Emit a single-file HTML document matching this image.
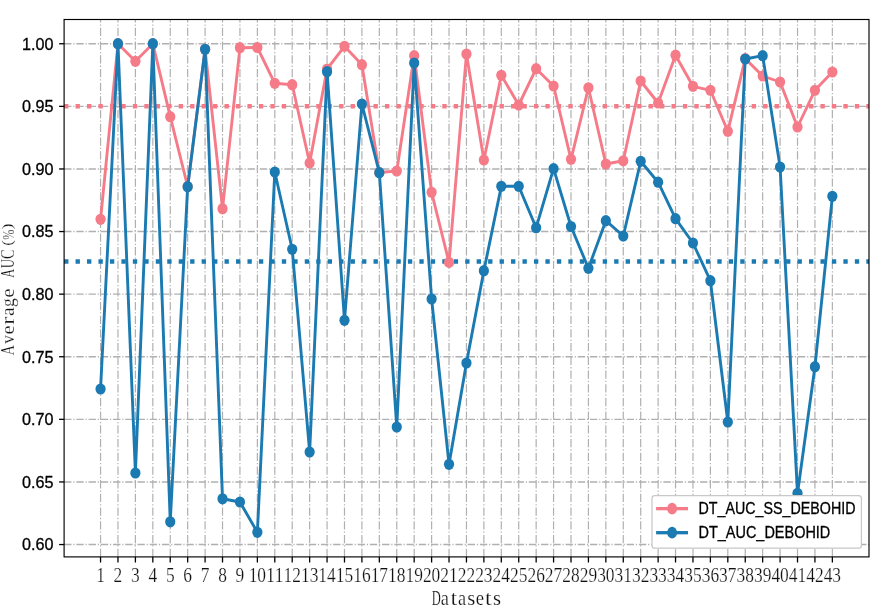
<!DOCTYPE html>
<html><head><meta charset="utf-8"><title>Average AUC chart</title>
<style>html,body{margin:0;padding:0;background:#fff;}body{width:882px;height:610px;overflow:hidden;font-family:"Liberation Sans",sans-serif;}svg{display:block;}</style>
</head><body>
<svg width="882" height="610" viewBox="0 0 882 610" style="will-change:transform">
<rect width="882" height="610" fill="#fff"/>
<g stroke="#b0b0b0" fill="none">
<path d="M100.55 556.9 V19.5" stroke-width="1.2" stroke-dasharray="8.27 2.07 1.29 2.075"/>
<path d="M117.97 556.9 V19.5" stroke-width="1.2" stroke-dasharray="8.27 2.07 1.29 2.075"/>
<path d="M135.40 556.9 V19.5" stroke-width="1.2" stroke-dasharray="8.27 2.07 1.29 2.075"/>
<path d="M152.82 556.9 V19.5" stroke-width="1.2" stroke-dasharray="8.27 2.07 1.29 2.075"/>
<path d="M170.25 556.9 V19.5" stroke-width="1.2" stroke-dasharray="8.27 2.07 1.29 2.075"/>
<path d="M187.67 556.9 V19.5" stroke-width="1.2" stroke-dasharray="8.27 2.07 1.29 2.075"/>
<path d="M205.09 556.9 V19.5" stroke-width="1.2" stroke-dasharray="8.27 2.07 1.29 2.075"/>
<path d="M222.52 556.9 V19.5" stroke-width="1.2" stroke-dasharray="8.27 2.07 1.29 2.075"/>
<path d="M239.94 556.9 V19.5" stroke-width="1.2" stroke-dasharray="8.27 2.07 1.29 2.075"/>
<path d="M257.37 556.9 V19.5" stroke-width="1.2" stroke-dasharray="8.27 2.07 1.29 2.075"/>
<path d="M274.79 556.9 V19.5" stroke-width="1.2" stroke-dasharray="8.27 2.07 1.29 2.075"/>
<path d="M292.21 556.9 V19.5" stroke-width="1.2" stroke-dasharray="8.27 2.07 1.29 2.075"/>
<path d="M309.64 556.9 V19.5" stroke-width="1.2" stroke-dasharray="8.27 2.07 1.29 2.075"/>
<path d="M327.06 556.9 V19.5" stroke-width="1.2" stroke-dasharray="8.27 2.07 1.29 2.075"/>
<path d="M344.49 556.9 V19.5" stroke-width="1.2" stroke-dasharray="8.27 2.07 1.29 2.075"/>
<path d="M361.91 556.9 V19.5" stroke-width="1.2" stroke-dasharray="8.27 2.07 1.29 2.075"/>
<path d="M379.33 556.9 V19.5" stroke-width="1.2" stroke-dasharray="8.27 2.07 1.29 2.075"/>
<path d="M396.76 556.9 V19.5" stroke-width="1.2" stroke-dasharray="8.27 2.07 1.29 2.075"/>
<path d="M414.18 556.9 V19.5" stroke-width="1.2" stroke-dasharray="8.27 2.07 1.29 2.075"/>
<path d="M431.61 556.9 V19.5" stroke-width="1.2" stroke-dasharray="8.27 2.07 1.29 2.075"/>
<path d="M449.03 556.9 V19.5" stroke-width="1.2" stroke-dasharray="8.27 2.07 1.29 2.075"/>
<path d="M466.45 556.9 V19.5" stroke-width="1.2" stroke-dasharray="8.27 2.07 1.29 2.075"/>
<path d="M483.88 556.9 V19.5" stroke-width="1.2" stroke-dasharray="8.27 2.07 1.29 2.075"/>
<path d="M501.30 556.9 V19.5" stroke-width="1.2" stroke-dasharray="8.27 2.07 1.29 2.075"/>
<path d="M518.73 556.9 V19.5" stroke-width="1.2" stroke-dasharray="8.27 2.07 1.29 2.075"/>
<path d="M536.15 556.9 V19.5" stroke-width="1.2" stroke-dasharray="8.27 2.07 1.29 2.075"/>
<path d="M553.57 556.9 V19.5" stroke-width="1.2" stroke-dasharray="8.27 2.07 1.29 2.075"/>
<path d="M571.00 556.9 V19.5" stroke-width="1.2" stroke-dasharray="8.27 2.07 1.29 2.075"/>
<path d="M588.42 556.9 V19.5" stroke-width="1.2" stroke-dasharray="8.27 2.07 1.29 2.075"/>
<path d="M605.85 556.9 V19.5" stroke-width="1.2" stroke-dasharray="8.27 2.07 1.29 2.075"/>
<path d="M623.27 556.9 V19.5" stroke-width="1.2" stroke-dasharray="8.27 2.07 1.29 2.075"/>
<path d="M640.69 556.9 V19.5" stroke-width="1.2" stroke-dasharray="8.27 2.07 1.29 2.075"/>
<path d="M658.12 556.9 V19.5" stroke-width="1.2" stroke-dasharray="8.27 2.07 1.29 2.075"/>
<path d="M675.54 556.9 V19.5" stroke-width="1.2" stroke-dasharray="8.27 2.07 1.29 2.075"/>
<path d="M692.97 556.9 V19.5" stroke-width="1.2" stroke-dasharray="8.27 2.07 1.29 2.075"/>
<path d="M710.39 556.9 V19.5" stroke-width="1.2" stroke-dasharray="8.27 2.07 1.29 2.075"/>
<path d="M727.81 556.9 V19.5" stroke-width="1.2" stroke-dasharray="8.27 2.07 1.29 2.075"/>
<path d="M745.24 556.9 V19.5" stroke-width="1.2" stroke-dasharray="8.27 2.07 1.29 2.075"/>
<path d="M762.66 556.9 V19.5" stroke-width="1.2" stroke-dasharray="8.27 2.07 1.29 2.075"/>
<path d="M780.09 556.9 V19.5" stroke-width="1.2" stroke-dasharray="8.27 2.07 1.29 2.075"/>
<path d="M797.51 556.9 V19.5" stroke-width="1.2" stroke-dasharray="8.27 2.07 1.29 2.075"/>
<path d="M814.93 556.9 V19.5" stroke-width="1.2" stroke-dasharray="8.27 2.07 1.29 2.075"/>
<path d="M832.36 556.9 V19.5" stroke-width="1.2" stroke-dasharray="8.27 2.07 1.29 2.075"/>
<path d="M64.1 43.75 H869.0" stroke-width="1.4" stroke-dasharray="7.38 1.85 1.15 1.85"/>
<path d="M64.1 106.35 H869.0" stroke-width="1.4" stroke-dasharray="7.38 1.85 1.15 1.85"/>
<path d="M64.1 168.95 H869.0" stroke-width="1.4" stroke-dasharray="7.38 1.85 1.15 1.85"/>
<path d="M64.1 231.55 H869.0" stroke-width="1.4" stroke-dasharray="7.38 1.85 1.15 1.85"/>
<path d="M64.1 294.15 H869.0" stroke-width="1.4" stroke-dasharray="7.38 1.85 1.15 1.85"/>
<path d="M64.1 356.75 H869.0" stroke-width="1.4" stroke-dasharray="7.38 1.85 1.15 1.85"/>
<path d="M64.1 419.35 H869.0" stroke-width="1.4" stroke-dasharray="7.38 1.85 1.15 1.85"/>
<path d="M64.1 481.95 H869.0" stroke-width="1.4" stroke-dasharray="7.38 1.85 1.15 1.85"/>
<path d="M64.1 544.55 H869.0" stroke-width="1.4" stroke-dasharray="7.38 1.85 1.15 1.85"/>
</g>
<path d="M64.1 106.3 H869.0" stroke="#f57b88" stroke-width="4.4" stroke-dasharray="4.33 7.13" fill="none"/>
<path d="M64.1 261.5 H869.0" stroke="#1b7ab1" stroke-width="4.4" stroke-dasharray="4.33 7.13" fill="none"/>
<clipPath id="ax"><rect x="64.1" y="19.5" width="804.9" height="537.4"/></clipPath>
<g clip-path="url(#ax)">
<polyline points="100.55,219.30 117.97,43.70 135.40,61.30 152.82,43.70 170.25,116.70 187.67,186.50 205.09,49.30 222.52,208.70 239.94,47.70 257.37,47.50 274.79,83.30 292.21,84.70 309.64,163.00 327.06,69.00 344.49,46.30 361.91,64.70 379.33,172.50 396.76,171.00 414.18,55.70 431.61,192.30 449.03,262.40 466.45,54.00 483.88,160.00 501.30,75.30 518.73,105.00 536.15,68.70 553.57,86.00 571.00,159.30 588.42,87.80 605.85,164.00 623.27,160.80 640.69,81.00 658.12,103.00 675.54,55.20 692.97,86.30 710.39,90.30 727.81,131.30 745.24,58.60 762.66,76.00 780.09,82.00 797.51,127.00 814.93,90.30 832.36,72.00" fill="none" stroke="#f57b88" stroke-width="2.9" stroke-linejoin="round" stroke-linecap="butt"/>
<g fill="#f57b88">
<ellipse cx="100.55" cy="219.30" rx="5.1" ry="5.6"/>
<ellipse cx="117.97" cy="43.70" rx="5.1" ry="5.6"/>
<ellipse cx="135.40" cy="61.30" rx="5.1" ry="5.6"/>
<ellipse cx="152.82" cy="43.70" rx="5.1" ry="5.6"/>
<ellipse cx="170.25" cy="116.70" rx="5.1" ry="5.6"/>
<ellipse cx="187.67" cy="186.50" rx="5.1" ry="5.6"/>
<ellipse cx="205.09" cy="49.30" rx="5.1" ry="5.6"/>
<ellipse cx="222.52" cy="208.70" rx="5.1" ry="5.6"/>
<ellipse cx="239.94" cy="47.70" rx="5.1" ry="5.6"/>
<ellipse cx="257.37" cy="47.50" rx="5.1" ry="5.6"/>
<ellipse cx="274.79" cy="83.30" rx="5.1" ry="5.6"/>
<ellipse cx="292.21" cy="84.70" rx="5.1" ry="5.6"/>
<ellipse cx="309.64" cy="163.00" rx="5.1" ry="5.6"/>
<ellipse cx="327.06" cy="69.00" rx="5.1" ry="5.6"/>
<ellipse cx="344.49" cy="46.30" rx="5.1" ry="5.6"/>
<ellipse cx="361.91" cy="64.70" rx="5.1" ry="5.6"/>
<ellipse cx="379.33" cy="172.50" rx="5.1" ry="5.6"/>
<ellipse cx="396.76" cy="171.00" rx="5.1" ry="5.6"/>
<ellipse cx="414.18" cy="55.70" rx="5.1" ry="5.6"/>
<ellipse cx="431.61" cy="192.30" rx="5.1" ry="5.6"/>
<ellipse cx="449.03" cy="262.40" rx="5.1" ry="5.6"/>
<ellipse cx="466.45" cy="54.00" rx="5.1" ry="5.6"/>
<ellipse cx="483.88" cy="160.00" rx="5.1" ry="5.6"/>
<ellipse cx="501.30" cy="75.30" rx="5.1" ry="5.6"/>
<ellipse cx="518.73" cy="105.00" rx="5.1" ry="5.6"/>
<ellipse cx="536.15" cy="68.70" rx="5.1" ry="5.6"/>
<ellipse cx="553.57" cy="86.00" rx="5.1" ry="5.6"/>
<ellipse cx="571.00" cy="159.30" rx="5.1" ry="5.6"/>
<ellipse cx="588.42" cy="87.80" rx="5.1" ry="5.6"/>
<ellipse cx="605.85" cy="164.00" rx="5.1" ry="5.6"/>
<ellipse cx="623.27" cy="160.80" rx="5.1" ry="5.6"/>
<ellipse cx="640.69" cy="81.00" rx="5.1" ry="5.6"/>
<ellipse cx="658.12" cy="103.00" rx="5.1" ry="5.6"/>
<ellipse cx="675.54" cy="55.20" rx="5.1" ry="5.6"/>
<ellipse cx="692.97" cy="86.30" rx="5.1" ry="5.6"/>
<ellipse cx="710.39" cy="90.30" rx="5.1" ry="5.6"/>
<ellipse cx="727.81" cy="131.30" rx="5.1" ry="5.6"/>
<ellipse cx="745.24" cy="58.60" rx="5.1" ry="5.6"/>
<ellipse cx="762.66" cy="76.00" rx="5.1" ry="5.6"/>
<ellipse cx="780.09" cy="82.00" rx="5.1" ry="5.6"/>
<ellipse cx="797.51" cy="127.00" rx="5.1" ry="5.6"/>
<ellipse cx="814.93" cy="90.30" rx="5.1" ry="5.6"/>
<ellipse cx="832.36" cy="72.00" rx="5.1" ry="5.6"/>
</g>
<polyline points="100.55,389.00 117.97,43.70 135.40,473.00 152.82,43.70 170.25,521.80 187.67,186.70 205.09,49.30 222.52,498.80 239.94,502.00 257.37,532.30 274.79,172.00 292.21,249.30 309.64,452.00 327.06,71.70 344.49,320.30 361.91,104.00 379.33,172.70 396.76,427.00 414.18,63.00 431.61,299.00 449.03,464.30 466.45,363.00 483.88,270.70 501.30,186.30 518.73,186.30 536.15,227.70 553.57,168.70 571.00,226.50 588.42,268.30 605.85,220.70 623.27,236.00 640.69,161.30 658.12,182.20 675.54,218.70 692.97,243.00 710.39,280.70 727.81,422.00 745.24,59.00 762.66,55.70 780.09,167.00 797.51,493.30 814.93,366.70 832.36,196.30" fill="none" stroke="#1b7ab1" stroke-width="2.9" stroke-linejoin="round" stroke-linecap="butt"/>
<g fill="#1b7ab1">
<ellipse cx="100.55" cy="389.00" rx="5.1" ry="5.6"/>
<ellipse cx="117.97" cy="43.70" rx="5.1" ry="5.6"/>
<ellipse cx="135.40" cy="473.00" rx="5.1" ry="5.6"/>
<ellipse cx="152.82" cy="43.70" rx="5.1" ry="5.6"/>
<ellipse cx="170.25" cy="521.80" rx="5.1" ry="5.6"/>
<ellipse cx="187.67" cy="186.70" rx="5.1" ry="5.6"/>
<ellipse cx="205.09" cy="49.30" rx="5.1" ry="5.6"/>
<ellipse cx="222.52" cy="498.80" rx="5.1" ry="5.6"/>
<ellipse cx="239.94" cy="502.00" rx="5.1" ry="5.6"/>
<ellipse cx="257.37" cy="532.30" rx="5.1" ry="5.6"/>
<ellipse cx="274.79" cy="172.00" rx="5.1" ry="5.6"/>
<ellipse cx="292.21" cy="249.30" rx="5.1" ry="5.6"/>
<ellipse cx="309.64" cy="452.00" rx="5.1" ry="5.6"/>
<ellipse cx="327.06" cy="71.70" rx="5.1" ry="5.6"/>
<ellipse cx="344.49" cy="320.30" rx="5.1" ry="5.6"/>
<ellipse cx="361.91" cy="104.00" rx="5.1" ry="5.6"/>
<ellipse cx="379.33" cy="172.70" rx="5.1" ry="5.6"/>
<ellipse cx="396.76" cy="427.00" rx="5.1" ry="5.6"/>
<ellipse cx="414.18" cy="63.00" rx="5.1" ry="5.6"/>
<ellipse cx="431.61" cy="299.00" rx="5.1" ry="5.6"/>
<ellipse cx="449.03" cy="464.30" rx="5.1" ry="5.6"/>
<ellipse cx="466.45" cy="363.00" rx="5.1" ry="5.6"/>
<ellipse cx="483.88" cy="270.70" rx="5.1" ry="5.6"/>
<ellipse cx="501.30" cy="186.30" rx="5.1" ry="5.6"/>
<ellipse cx="518.73" cy="186.30" rx="5.1" ry="5.6"/>
<ellipse cx="536.15" cy="227.70" rx="5.1" ry="5.6"/>
<ellipse cx="553.57" cy="168.70" rx="5.1" ry="5.6"/>
<ellipse cx="571.00" cy="226.50" rx="5.1" ry="5.6"/>
<ellipse cx="588.42" cy="268.30" rx="5.1" ry="5.6"/>
<ellipse cx="605.85" cy="220.70" rx="5.1" ry="5.6"/>
<ellipse cx="623.27" cy="236.00" rx="5.1" ry="5.6"/>
<ellipse cx="640.69" cy="161.30" rx="5.1" ry="5.6"/>
<ellipse cx="658.12" cy="182.20" rx="5.1" ry="5.6"/>
<ellipse cx="675.54" cy="218.70" rx="5.1" ry="5.6"/>
<ellipse cx="692.97" cy="243.00" rx="5.1" ry="5.6"/>
<ellipse cx="710.39" cy="280.70" rx="5.1" ry="5.6"/>
<ellipse cx="727.81" cy="422.00" rx="5.1" ry="5.6"/>
<ellipse cx="745.24" cy="59.00" rx="5.1" ry="5.6"/>
<ellipse cx="762.66" cy="55.70" rx="5.1" ry="5.6"/>
<ellipse cx="780.09" cy="167.00" rx="5.1" ry="5.6"/>
<ellipse cx="797.51" cy="493.30" rx="5.1" ry="5.6"/>
<ellipse cx="814.93" cy="366.70" rx="5.1" ry="5.6"/>
<ellipse cx="832.36" cy="196.30" rx="5.1" ry="5.6"/>
</g>
</g>
<rect x="64.1" y="19.5" width="804.90" height="537.40" fill="none" stroke="#000" stroke-width="1.15"/>
<g stroke="#000" stroke-width="1.3">
<path d="M100.55 556.9 V562.50"/>
<path d="M117.97 556.9 V562.50"/>
<path d="M135.40 556.9 V562.50"/>
<path d="M152.82 556.9 V562.50"/>
<path d="M170.25 556.9 V562.50"/>
<path d="M187.67 556.9 V562.50"/>
<path d="M205.09 556.9 V562.50"/>
<path d="M222.52 556.9 V562.50"/>
<path d="M239.94 556.9 V562.50"/>
<path d="M257.37 556.9 V562.50"/>
<path d="M274.79 556.9 V562.50"/>
<path d="M292.21 556.9 V562.50"/>
<path d="M309.64 556.9 V562.50"/>
<path d="M327.06 556.9 V562.50"/>
<path d="M344.49 556.9 V562.50"/>
<path d="M361.91 556.9 V562.50"/>
<path d="M379.33 556.9 V562.50"/>
<path d="M396.76 556.9 V562.50"/>
<path d="M414.18 556.9 V562.50"/>
<path d="M431.61 556.9 V562.50"/>
<path d="M449.03 556.9 V562.50"/>
<path d="M466.45 556.9 V562.50"/>
<path d="M483.88 556.9 V562.50"/>
<path d="M501.30 556.9 V562.50"/>
<path d="M518.73 556.9 V562.50"/>
<path d="M536.15 556.9 V562.50"/>
<path d="M553.57 556.9 V562.50"/>
<path d="M571.00 556.9 V562.50"/>
<path d="M588.42 556.9 V562.50"/>
<path d="M605.85 556.9 V562.50"/>
<path d="M623.27 556.9 V562.50"/>
<path d="M640.69 556.9 V562.50"/>
<path d="M658.12 556.9 V562.50"/>
<path d="M675.54 556.9 V562.50"/>
<path d="M692.97 556.9 V562.50"/>
<path d="M710.39 556.9 V562.50"/>
<path d="M727.81 556.9 V562.50"/>
<path d="M745.24 556.9 V562.50"/>
<path d="M762.66 556.9 V562.50"/>
<path d="M780.09 556.9 V562.50"/>
<path d="M797.51 556.9 V562.50"/>
<path d="M814.93 556.9 V562.50"/>
<path d="M832.36 556.9 V562.50"/>
<path d="M64.1 43.75 H59.10"/>
<path d="M64.1 106.35 H59.10"/>
<path d="M64.1 168.95 H59.10"/>
<path d="M64.1 231.55 H59.10"/>
<path d="M64.1 294.15 H59.10"/>
<path d="M64.1 356.75 H59.10"/>
<path d="M64.1 419.35 H59.10"/>
<path d="M64.1 481.95 H59.10"/>
<path d="M64.1 544.55 H59.10"/>
</g>
<g font-family="'Liberation Sans', sans-serif" font-size="16.5" fill="#000" stroke="#000" stroke-width="0.3" text-anchor="end">
<text x="53.6" y="49.65" textLength="31.5" lengthAdjust="spacingAndGlyphs">1.00</text>
<text x="53.6" y="112.25" textLength="31.5" lengthAdjust="spacingAndGlyphs">0.95</text>
<text x="53.6" y="174.85" textLength="31.5" lengthAdjust="spacingAndGlyphs">0.90</text>
<text x="53.6" y="237.45" textLength="31.5" lengthAdjust="spacingAndGlyphs">0.85</text>
<text x="53.6" y="300.05" textLength="31.5" lengthAdjust="spacingAndGlyphs">0.80</text>
<text x="53.6" y="362.65" textLength="31.5" lengthAdjust="spacingAndGlyphs">0.75</text>
<text x="53.6" y="425.25" textLength="31.5" lengthAdjust="spacingAndGlyphs">0.70</text>
<text x="53.6" y="487.85" textLength="31.5" lengthAdjust="spacingAndGlyphs">0.65</text>
<text x="53.6" y="550.45" textLength="31.5" lengthAdjust="spacingAndGlyphs">0.60</text>
</g>
<g font-family="'Liberation Serif', serif" font-size="20" fill="#111" stroke="#fff" stroke-width="0.22" text-anchor="middle">
<text x="100.55" y="581.9" textLength="8.7" lengthAdjust="spacingAndGlyphs">1</text>
<text x="117.97" y="581.9" textLength="8.7" lengthAdjust="spacingAndGlyphs">2</text>
<text x="135.40" y="581.9" textLength="8.7" lengthAdjust="spacingAndGlyphs">3</text>
<text x="152.82" y="581.9" textLength="8.7" lengthAdjust="spacingAndGlyphs">4</text>
<text x="170.25" y="581.9" textLength="8.7" lengthAdjust="spacingAndGlyphs">5</text>
<text x="187.67" y="581.9" textLength="8.7" lengthAdjust="spacingAndGlyphs">6</text>
<text x="205.09" y="581.9" textLength="8.7" lengthAdjust="spacingAndGlyphs">7</text>
<text x="222.52" y="581.9" textLength="8.7" lengthAdjust="spacingAndGlyphs">8</text>
<text x="239.94" y="581.9" textLength="8.7" lengthAdjust="spacingAndGlyphs">9</text>
<text x="257.37" y="581.9" textLength="17.4" lengthAdjust="spacingAndGlyphs">10</text>
<text x="274.79" y="581.9" textLength="17.4" lengthAdjust="spacingAndGlyphs">11</text>
<text x="292.21" y="581.9" textLength="17.4" lengthAdjust="spacingAndGlyphs">12</text>
<text x="309.64" y="581.9" textLength="17.4" lengthAdjust="spacingAndGlyphs">13</text>
<text x="327.06" y="581.9" textLength="17.4" lengthAdjust="spacingAndGlyphs">14</text>
<text x="344.49" y="581.9" textLength="17.4" lengthAdjust="spacingAndGlyphs">15</text>
<text x="361.91" y="581.9" textLength="17.4" lengthAdjust="spacingAndGlyphs">16</text>
<text x="379.33" y="581.9" textLength="17.4" lengthAdjust="spacingAndGlyphs">17</text>
<text x="396.76" y="581.9" textLength="17.4" lengthAdjust="spacingAndGlyphs">18</text>
<text x="414.18" y="581.9" textLength="17.4" lengthAdjust="spacingAndGlyphs">19</text>
<text x="431.61" y="581.9" textLength="17.4" lengthAdjust="spacingAndGlyphs">20</text>
<text x="449.03" y="581.9" textLength="17.4" lengthAdjust="spacingAndGlyphs">21</text>
<text x="466.45" y="581.9" textLength="17.4" lengthAdjust="spacingAndGlyphs">22</text>
<text x="483.88" y="581.9" textLength="17.4" lengthAdjust="spacingAndGlyphs">23</text>
<text x="501.30" y="581.9" textLength="17.4" lengthAdjust="spacingAndGlyphs">24</text>
<text x="518.73" y="581.9" textLength="17.4" lengthAdjust="spacingAndGlyphs">25</text>
<text x="536.15" y="581.9" textLength="17.4" lengthAdjust="spacingAndGlyphs">26</text>
<text x="553.57" y="581.9" textLength="17.4" lengthAdjust="spacingAndGlyphs">27</text>
<text x="571.00" y="581.9" textLength="17.4" lengthAdjust="spacingAndGlyphs">28</text>
<text x="588.42" y="581.9" textLength="17.4" lengthAdjust="spacingAndGlyphs">29</text>
<text x="605.85" y="581.9" textLength="17.4" lengthAdjust="spacingAndGlyphs">30</text>
<text x="623.27" y="581.9" textLength="17.4" lengthAdjust="spacingAndGlyphs">31</text>
<text x="640.69" y="581.9" textLength="17.4" lengthAdjust="spacingAndGlyphs">32</text>
<text x="658.12" y="581.9" textLength="17.4" lengthAdjust="spacingAndGlyphs">33</text>
<text x="675.54" y="581.9" textLength="17.4" lengthAdjust="spacingAndGlyphs">34</text>
<text x="692.97" y="581.9" textLength="17.4" lengthAdjust="spacingAndGlyphs">35</text>
<text x="710.39" y="581.9" textLength="17.4" lengthAdjust="spacingAndGlyphs">36</text>
<text x="727.81" y="581.9" textLength="17.4" lengthAdjust="spacingAndGlyphs">37</text>
<text x="745.24" y="581.9" textLength="17.4" lengthAdjust="spacingAndGlyphs">38</text>
<text x="762.66" y="581.9" textLength="17.4" lengthAdjust="spacingAndGlyphs">39</text>
<text x="780.09" y="581.9" textLength="17.4" lengthAdjust="spacingAndGlyphs">40</text>
<text x="797.51" y="581.9" textLength="17.4" lengthAdjust="spacingAndGlyphs">41</text>
<text x="814.93" y="581.9" textLength="17.4" lengthAdjust="spacingAndGlyphs">42</text>
<text x="832.36" y="581.9" textLength="17.4" lengthAdjust="spacingAndGlyphs">43</text>
</g>
<g font-family="'Liberation Serif', serif" fill="#111" stroke="#fff" stroke-width="0.22">
<text transform="translate(431.75 604.70) scale(0.624 1.000)" font-size="20.1">D</text>
<text transform="translate(440.75 604.70) scale(0.910 1.000)" font-size="20.1">a</text>
<text transform="translate(450.50 604.70) scale(1.190 1.000)" font-size="20.1">t</text>
<text transform="translate(457.95 604.70) scale(0.910 1.000)" font-size="20.1">a</text>
<text transform="translate(467.18 604.70) scale(1.026 1.000)" font-size="20.1">s</text>
<text transform="translate(475.64 604.70) scale(0.930 1.000)" font-size="20.1">e</text>
<text transform="translate(485.00 604.70) scale(1.190 1.000)" font-size="20.1">t</text>
<text transform="translate(493.07 604.70) scale(1.026 1.000)" font-size="20.1">s</text>
</g>
<g font-family="'Liberation Serif', serif" fill="#111" stroke="#fff" stroke-width="0.22" transform="rotate(-90)">
<text transform="translate(-355.60 14.00) scale(0.769 1.000)" font-size="18.6">A</text>
<text transform="translate(-343.80 14.00) scale(0.935 1.000)" font-size="18.6">v</text>
<text transform="translate(-334.42 14.00) scale(1.104 1.000)" font-size="18.6">e</text>
<text transform="translate(-325.01 14.00) scale(1.370 1.000)" font-size="18.6">r</text>
<text transform="translate(-315.99 14.00) scale(1.062 1.000)" font-size="18.6">a</text>
<text transform="translate(-306.90 14.00) scale(0.944 1.000)" font-size="18.6">g</text>
<text transform="translate(-297.74 14.00) scale(1.146 1.000)" font-size="18.6">e</text>
<text transform="translate(-277.70 14.00) scale(0.665 1.000)" font-size="18.6">A</text>
<text transform="translate(-267.94 14.00) scale(0.655 1.000)" font-size="18.6">U</text>
<text transform="translate(-258.88 14.00) scale(0.779 1.000)" font-size="18.6">C</text>
<text transform="translate(-245.67 11.60) scale(0.896 0.820)" font-size="18.6">(</text>
<text transform="translate(-239.77 13.50) scale(0.656 0.930)" font-size="18.6">%</text>
<text transform="translate(-229.44 11.60) scale(0.972 0.820)" font-size="18.6">)</text>
</g>
<rect x="652.0" y="495.5" width="209.4" height="52.7" rx="2.8" ry="2.8" fill="#fff" stroke="#c8c8c8" stroke-width="1.25"/>
<path d="M656.1 508.65 H688" stroke="#f57b88" stroke-width="3.3" fill="none"/>
<ellipse cx="672.1" cy="508.65" rx="4.95" ry="5.9" fill="#f57b88"/>
<text x="698.5" y="514.25" font-family="'Liberation Sans', sans-serif" font-size="16.3" fill="#000" stroke="#000" stroke-width="0.3" textLength="157.0" lengthAdjust="spacingAndGlyphs">DT_AUC_SS_DEBOHID</text>
<path d="M656.1 532.7 H688" stroke="#1b7ab1" stroke-width="3.3" fill="none"/>
<ellipse cx="672.1" cy="532.7" rx="4.95" ry="5.9" fill="#1b7ab1"/>
<text x="698.5" y="538.30" font-family="'Liberation Sans', sans-serif" font-size="16.3" fill="#000" stroke="#000" stroke-width="0.3" textLength="131.8" lengthAdjust="spacingAndGlyphs">DT_AUC_DEBOHID</text>
</svg>
</body></html>
